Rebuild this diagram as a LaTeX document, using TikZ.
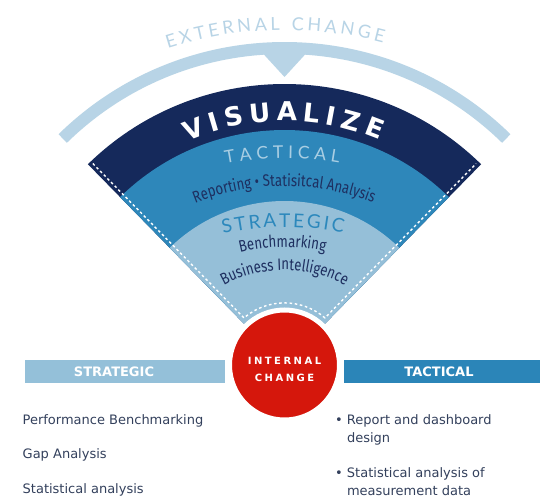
\documentclass[tikz,border=0pt]{standalone}
\usepackage{fontspec}
\setmainfont{DejaVu Sans}
\newfontfamily\arcfont{Lato}
\newfontfamily\narrowfont[FakeStretch=0.8]{Fira Sans}
\newfontfamily\spacedfont[LetterSpace=25]{DejaVu Sans Bold}
\usetikzlibrary{calc}
\usetikzlibrary{decorations.text}

\definecolor{navy}{HTML}{15295B}
\definecolor{tactblue}{HTML}{2E87BA}
\definecolor{stratblue}{HTML}{95BFD8}
\definecolor{extblue}{HTML}{B8D4E6}
\definecolor{tacttext}{HTML}{A9CEE3}
\definecolor{strattext}{HTML}{2C88BC}
\definecolor{ink}{HTML}{1E2F60}
\definecolor{redcirc}{HTML}{D5170C}
\definecolor{leftbar}{HTML}{94C0D9}
\definecolor{rightbar}{HTML}{2B85B8}
\definecolor{listtext}{HTML}{33405C}

\tikzstyle{seam} = [draw=white, line width=1.4pt, dash pattern=on 2.6pt off 2.6pt]
\tikzstyle{bar} = [rectangle, inner sep=0pt, minimum height=23pt, anchor=north west]
\tikzstyle{bartext} = [text=white, font=\fontsize{13}{13}\selectfont\bfseries]
\tikzstyle{listitem} = [anchor=base west, inner sep=0pt, text=listtext,
    font=\fontsize{13}{18}\selectfont, align=left]
\tikzstyle{curved} = [decorate]

\begin{document}
\begin{tikzpicture}[x=1pt, y=1pt]
  \fill[white] (-284.5,-133) rectangle (255.5,365);
  \useasboundingbox (-284.5,-133) rectangle (255.5,365);

  % outer arc with its notch
  \draw[extblue, line width=12pt] (45.6:317) arc[start angle=45.6, end angle=134.4, radius=317];
  \fill[extblue] (-22,312) -- (22,312) -- (0,288) -- cycle;
  \path[curved, decoration={text along path, text align={fit to path},
      text={|\arcfont\fontsize{18}{18}\selectfont\color{extblue}|EXTERNAL CHANGE}}]
    (0,-51) ++(107.6:386) arc[start angle=107.6, end angle=75.2, radius=386];

  % the fan, three bands
  \fill[navy] (0,0) -- (45.6:281) arc[start angle=45.6, end angle=134.4, radius=281] -- cycle;
  \fill[tactblue] (0,0) -- (45.6:235) arc[start angle=45.6, end angle=134.4, radius=235] -- cycle;
  \fill[stratblue] (0,0) -- (45.6:164) arc[start angle=45.6, end angle=134.4, radius=164] -- cycle;

  % dashed seam along the edges
  \draw[seam] ($(134.4:278)+(44.4:4)$) -- ($(134.4:62)+(44.4:4)$)
    arc[start angle=130.7, end angle=49.3, radius=62.1]
    -- ($(45.6:278)+(135.6:4)$);

  % band texts
  \path[curved, decoration={text along path, text align={fit to path},
      text={|\bfseries\fontsize{26}{26}\selectfont\color{white}|VISUALIZE}}]
    (113.5:244) arc[start angle=113.5, end angle=67, radius=244];
  \path[curved, decoration={text along path, text align={fit to path},
      text={|\arcfont\fontsize{17.5}{17.5}\selectfont\color{tacttext}|TACTICAL}}]
    (0,-107) ++(100.8:314) arc[start angle=100.8, end angle=80, radius=314];
  \path[curved, decoration={text along path, text align=center,
      text={|\narrowfont\fontsize{16.5}{16.5}\selectfont\color{ink}|Reporting • Statisitcal Analysis}}]
    (0,-62) ++(112.3:241) arc[start angle=112.3, end angle=67.9, radius=241];
  \path[curved, decoration={text along path, text align={fit to path},
      text={|\arcfont\fontsize{19}{19}\selectfont\color{strattext}|STRATEGIC}}]
    (0,-135) ++(103:273) arc[start angle=103, end angle=77.6, radius=273];
  \path[curved, decoration={text along path, text align=center,
      text={|\narrowfont\fontsize{16.5}{16.5}\selectfont\color{ink}|Benchmarking}}]
    (0,-69) ++(104.7:187) arc[start angle=104.7, end angle=76.5, radius=187];
  \path[curved, decoration={text along path, text align=center,
      text={|\narrowfont\fontsize{16.5}{16.5}\selectfont\color{ink}|Business Intelligence}}]
    (0,-30) ++(119.5:125) arc[start angle=119.5, end angle=60.5, radius=125];

  % bars under the fan
  \node[bar, fill=leftbar, minimum width=200pt] (stratbar) at (-259.5,5) {};
  \node[bar, fill=rightbar, minimum width=196pt] (tactbar) at (59.5,5) {};
  \node[bartext] (stratlabel) at (-170.5,-6.5) {STRATEGIC};
  \node[bartext] (tactlabel) at (154.5,-6.5) {TACTICAL};

  % internal change
  \node[circle, fill=redcirc, draw=white, line width=5pt, minimum size=110pt] (change) at (0,0) {};
  \node[text=white, align=center, inner sep=0pt,
        font=\spacedfont\fontsize{10}{17}\selectfont] (changelabel) at (0,-4) {INTERNAL\\CHANGE};

  % lists
  \node[listitem] (perf) at (-262,-59) {Performance Benchmarking};
  \node[listitem] (gap) at (-262,-93) {Gap Analysis};
  \node[listitem] (stat) at (-262,-128) {Statistical analysis};
  \node[listitem] (report) at (50.5,-77) {\textbullet\ Report and dashboard\\\phantom{\textbullet\ }design};
  \node[listitem] (measure) at (50.5,-130) {\textbullet\ Statistical analysis of\\\phantom{\textbullet\ }measurement data};
\end{tikzpicture}
\end{document}
